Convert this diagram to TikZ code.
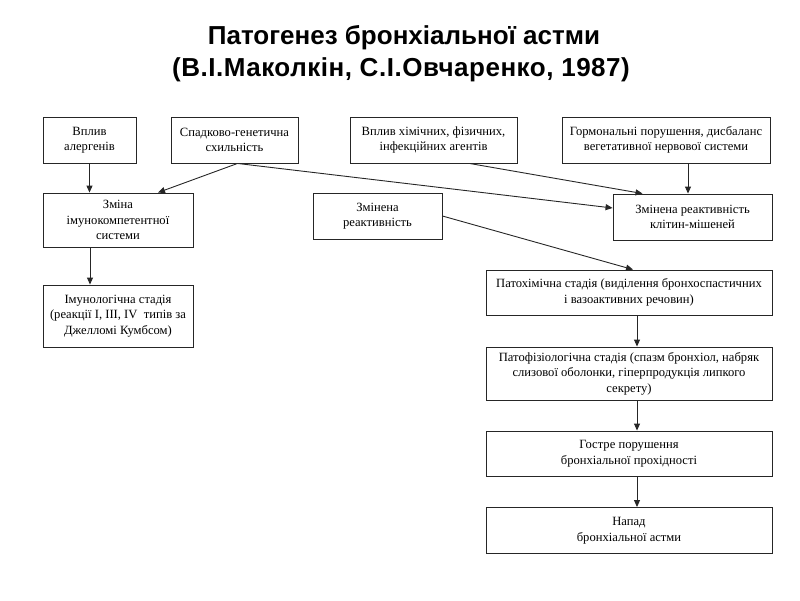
\documentclass[tikz,border=0pt]{standalone}
\usepackage{fontspec}
\setmainfont{Liberation Serif}
\newfontfamily\titlefont{Liberation Sans}
\usetikzlibrary{arrows.meta,calc}
\begin{document}
\begin{tikzpicture}[x=1pt,y=-1pt,
  box/.style={draw=black!85, line width=0.9pt, fill=white, align=center, inner sep=2pt,
    font=\fontsize{12.6}{15.5}\selectfont},
  ttl/.style={font=\titlefont\bfseries\fontsize{26}{30}\selectfont, anchor=base, inner sep=0pt},
  arr/.style={line width=0.9pt, draw=black!85, -{Triangle[length=7pt,width=6pt]}}]
\useasboundingbox (0,0) rectangle (800,600);
\node[ttl] (title1) at (404,44) {Патогенез бронхіальної астми};
\node[ttl] (title2) at (401,76.5) {\addfontfeature{LetterSpace=2}(В.І.Маколкін, С.І.Овчаренко, 1987)};
\node[box, minimum width=93pt, minimum height=46pt] (b1) at (89.5,140) {Вплив\\алергенів};
\node[box, minimum width=127pt, minimum height=46pt] (b2) at (234.5,140) {Спадково-генетична\\схильність};
\node[box, minimum width=167pt, minimum height=46pt] (b3) at (433.5,140) {Вплив хімічних, фізичних,\\інфекційних агентів};
\node[box, minimum width=208pt, minimum height=46pt] (b4) at (666,140) {Гормональні порушення, дисбаланс\\вегетативної нервової системи};
\node[box, minimum width=150pt, minimum height=54pt] (b5) at (118,220) {Зміна\\імунокомпетентної\\системи};
\node[box, minimum width=129pt, minimum height=46pt] (b6) at (377.5,216) {Змінена\\реактивність};
\node[box, minimum width=159pt, minimum height=46pt] (b7) at (692.5,217) {Змінена реактивність\\клітин-мішеней};
\node[box, minimum width=150pt, minimum height=62pt] (b8) at (118,316) {Імунологічна стадія\\(реакції I, III, IV\ \ типів за\\Джелломі Кумбсом)};
\node[box, minimum width=286pt, minimum height=45pt] (b9) at (629,292.5) {Патохімічна стадія (виділення бронхоспастичних\\і вазоактивних речовин)};
\node[box, minimum width=286pt, minimum height=53pt] (b10) at (629,373.5) {Патофізіологічна стадія (спазм бронхіол, набряк\\слизової оболонки, гіперпродукція липкого\\секрету)};
\node[box, minimum width=286pt, minimum height=45pt] (b11) at (629,453.5) {Гостре порушення\\бронхіальної прохідності};
\node[box, minimum width=286pt, minimum height=46pt] (b12) at (629,530.5) {Напад\\бронхіальної астми};
\draw[arr] (b1.south) -- (b1.south |- b5.north);
\draw[arr] ($(b2.south)+(3,0)$) -- ($(b5.north)+(40,0)$);
\draw[arr] ($(b2.south)+(3,0)$) -- ($(b7.west)+(0,-9)$);
\draw[arr] ($(b3.south)+(36,0)$) -- ($(b7.north)+(-50,0)$);
\draw[arr] ($(b4.south)+(22,0)$) -- ($(b7.north)+(-4.5,0)$);
\draw[arr] ($(b5.south)+(-28,0)$) -- ($(b8.north)+(-28,0)$);
\draw[arr] (b6.east) -- ($(b9.north)+(4,0)$);
\draw[arr] ($(b9.south)+(8,0)$) -- ($(b10.north)+(8,0)$);
\draw[arr] ($(b10.south)+(8,0)$) -- ($(b11.north)+(8,0)$);
\draw[arr] ($(b11.south)+(8,0)$) -- ($(b12.north)+(8,0)$);
\end{tikzpicture}
\end{document}
